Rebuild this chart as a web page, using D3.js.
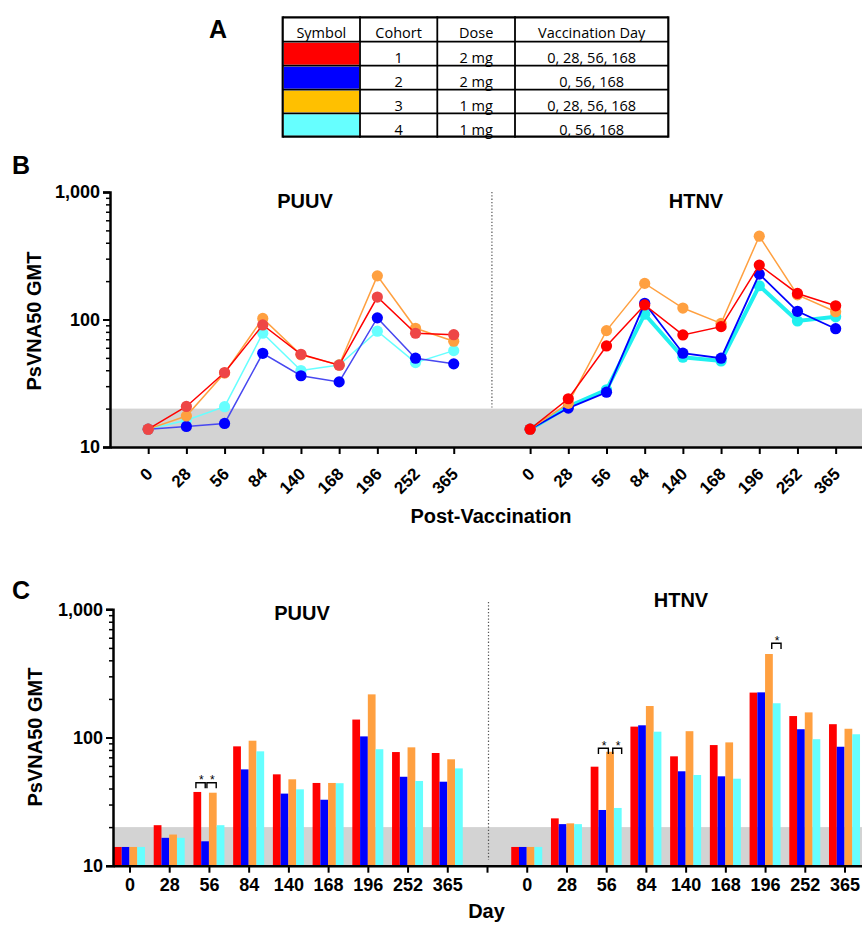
<!DOCTYPE html>
<html><head><meta charset="utf-8">
<script src="https://cdn.jsdelivr.net/npm/d3@7/dist/d3.min.js"></script>
<style>
body{margin:0;background:#fff}
svg{display:block}
text{font-family:"Liberation Sans",Arial,sans-serif}
</style>
</head><body>
<svg id="chart" width="862" height="930"></svg>
<script>
// ---------- DATA ----------
const days = ["0","28","56","84","140","168","196","252","365"];
const viruses = ["PUUV","HTNV"];
const cohorts = ["1","2","3","4"];
const doses = ["2 mg","2 mg","1 mg","1 mg"];
const vaccinationDays = ["0, 28, 56, 168","0, 56, 168","0, 28, 56, 168","0, 56, 168"];
const tableHeaders = ["Symbol","Cohort","Dose","Vaccination Day"];
const yMajorTicks = [10,100,1000];
const yMinorTicks = [20,30,40,50,60,70,80,90,200,300,400,500,600,700,800,900];
const lodValue = 20;

// Panel B (line chart) GMT values, cohorts 1..4
const lineB_PUUV_c1 = [13.8,20.8,38.4,90.6,53.4,43.8,150,78,76];
const lineB_PUUV_c2 = [13.8,14.5,15.3,54.3,36.2,32.4,103,49.7,44.9];
const lineB_PUUV_c3 = [13.8,17.5,38,102,52.8,44,220,85.3,67.5];
const lineB_PUUV_c4 = [13.8,16.2,20.7,78,39.8,44,81,45.9,57];
const lineB_HTNV_c1 = [13.8,23.9,62,130,75.7,87.9,267,160,128];
const lineB_HTNV_c2 = [13.8,20.2,26.9,134,54.4,49.7,227,116,84.7];
const lineB_HTNV_c3 = [13.8,22,81.8,192,123,93.3,450,156,115];
const lineB_HTNV_c4 = [13.8,20.8,28.1,110,50.6,47.3,184,97.3,105];

// Panel C (bar chart) GMT values, cohorts 1..4
const barC_PUUV_c1 = [14,20.7,37.6,85.3,51.6,44.2,138,77,75.7];
const barC_PUUV_c2 = [14,16.5,15.5,56.4,36.5,32.7,102,49.4,45.2];
const barC_PUUV_c3 = [14,17.5,37.1,94.4,47.2,44.2,217,83.8,67.6];
const barC_PUUV_c4 = [14,16.5,20.7,78,39.4,44,81,45.8,57.4];
const barC_HTNV_c1 = [14,23.4,59.2,121.6,71.3,87.3,224,147,127];
const barC_HTNV_c2 = [14,21.1,27.2,124.5,54.5,49.8,225,116,84.7];
const barC_HTNV_c3 = [14,21.4,77.4,176,112,91.6,448,157,117];
const barC_HTNV_c4 = [14,21.1,28.2,111,51,47.7,185,97,106];

// significance annotations (virus, day, bracket y value)
const sigVirus = ["PUUV","PUUV","HTNV","HTNV","HTNV"];
const sigDay = ["56","56","56","56","196"];
const sigTop = [44.4,44.4,82.4,82.4,543];

// ---------- STYLE ----------
const tableColors = ["#FF0000","#0000FF","#FFC000","#66FFFF"];
const barColors = ["#FF0000","#0000FF","#FFA040","#66FFFF"];
const lineColorsB = {
  PUUV:{line:["#FF0000","#4848F0","#FFA040","#66FFFF"], dot:["#EE4646","#0000FF","#FFA040","#66FFFF"], w:[1.5,1.5,1.5,1.5]},
  HTNV:{line:["#FF0000","#0000FF","#FFA040","#20F0F0"], dot:["#FF0000","#0000FF","#FFA040","#20F0F0"], w:[1.5,1.8,1.5,4]}
};
const sigOffsets = [[-1.68,-0.48],[-0.26,0.94],[-1.0,0.28],[0.85,2.0],[0.86,2.06]];
const bandColor = "#D3D3D3";

const lineB = {PUUV:[lineB_PUUV_c1,lineB_PUUV_c2,lineB_PUUV_c3,lineB_PUUV_c4],
               HTNV:[lineB_HTNV_c1,lineB_HTNV_c2,lineB_HTNV_c3,lineB_HTNV_c4]};
const barC = {PUUV:[barC_PUUV_c1,barC_PUUV_c2,barC_PUUV_c3,barC_PUUV_c4],
              HTNV:[barC_HTNV_c1,barC_HTNV_c2,barC_HTNV_c3,barC_HTNV_c4]};

const svg = d3.select("#chart");
const slot = (v,i) => (v==="PUUV"? i : i+10);
const labelOf = idx => idx<9 ? days[idx] : (idx>9 ? days[idx-10] : "");

// ---------- PANEL A : TABLE ----------
const colX = [282.7,360,437.3,515,668.3];
const rowY = [17.3,41.7,65.7,89.7,113.3,136.7];
const gA = svg.append("g");
gA.append("text").attr("x",209).attr("y",38).attr("font-size",25).attr("font-weight","bold").text("A");
cohorts.forEach((c,i)=>{
  gA.append("rect").attr("x",colX[0]+1).attr("y",rowY[i+1]+1)
    .attr("width",colX[1]-colX[0]-2).attr("height",rowY[i+2]-rowY[i+1]-2)
    .attr("fill",tableColors[i]);
});
rowY.forEach((y,i)=>{
  gA.append("line").attr("x1",colX[0]).attr("x2",colX[4]).attr("y1",y).attr("y2",y)
    .attr("stroke","#000").attr("stroke-width", (i===0||i===rowY.length-1)?2.2:1.8);
});
colX.forEach((x,i)=>{
  gA.append("line").attr("x1",x).attr("x2",x).attr("y1",rowY[0]-1).attr("y2",rowY[5]+1)
    .attr("stroke","#000").attr("stroke-width",(i===0||i===colX.length-1)?2.2:1.8);
});
const tfont = "'Open Sans','Noto Sans',sans-serif";
tableHeaders.forEach((h,j)=>{
  gA.append("text").attr("x",(colX[j]+colX[j+1])/2).attr("y",rowY[0]+21)
    .attr("text-anchor","middle").attr("font-size",14.5).attr("fill","#000").style("font-family",tfont).text(h);
});
cohorts.forEach((c,i)=>{
  const y = rowY[i+1]+21.3;
  [[1,c],[2,doses[i]],[3,vaccinationDays[i]]].forEach(([j,t])=>{
    gA.append("text").attr("x",(colX[j]+colX[j+1])/2).attr("y",y)
      .attr("text-anchor","middle").attr("font-size",14.5).attr("fill","#000").style("font-family",tfont).text(t);
  });
});

// ---------- helpers ----------
function styleAxis(g, domainW){
  g.select(".domain").attr("stroke","#000").attr("stroke-width",domainW);
  g.selectAll(".tick line").attr("stroke","#000").attr("stroke-width",2);
  g.selectAll(".tick text").attr("fill","#000").attr("font-weight","bold").attr("font-size",18)
    .style("font-family","'Liberation Sans',Arial,sans-serif");
}
function yAxes(g, y, x0){
  const ax = g.append("g").attr("transform",`translate(${x0},0)`)
    .call(d3.axisLeft(y).tickValues(yMajorTicks).tickFormat(d3.format(",")).tickSize(7).tickPadding(3));
  styleAxis(ax,2.5);
  const mn = g.append("g").attr("transform",`translate(${x0},0)`)
    .call(d3.axisLeft(y).tickValues(yMinorTicks).tickFormat("").tickSize(4).tickSizeOuter(0));
  mn.select(".domain").remove();
  mn.selectAll(".tick line").attr("stroke","#000").attr("stroke-width",1.5);
}

// ---------- PANEL B : LINES ----------
const xB = d3.scaleLinear().domain([-1,18.69]).range([110,862]);
const yB = d3.scaleLog().domain([10,1000]).range([447,192]);
const gB = svg.append("g");
gB.append("text").attr("x",12).attr("y",174).attr("font-size",25).attr("font-weight","bold").text("B");
gB.append("rect").attr("x",xB(-1)).attr("y",yB(lodValue)).attr("width",xB(18.69)-xB(-1))
  .attr("height",yB(10)-yB(lodValue)).attr("fill",bandColor);
gB.append("line").attr("x1",xB(9)).attr("x2",xB(9)).attr("y1",yB(1000)).attr("y2",yB(lodValue)-1)
  .attr("stroke","#555").attr("stroke-width",1.2).attr("stroke-dasharray","1.3,2");
gB.append("text").attr("x",305).attr("y",208).attr("text-anchor","middle").attr("font-size",20).attr("font-weight","bold").text("PUUV");
gB.append("text").attr("x",696).attr("y",208).attr("text-anchor","middle").attr("font-size",20).attr("font-weight","bold").text("HTNV");

const lineGen = v => d3.line().x((d,i)=>xB(slot(v,i))).y(d=>yB(d));
viruses.forEach(v=>{
  [3,1,2,0].forEach(k=>{
    const vals = lineB[v][k];
    gB.append("path").attr("d",lineGen(v)(vals)).attr("fill","none")
      .attr("stroke",lineColorsB[v].line[k]).attr("stroke-width",lineColorsB[v].w[k]);
    gB.selectAll(null).data(vals).enter().append("circle")
      .attr("cx",(d,i)=>xB(slot(v,i))).attr("cy",d=>yB(d)).attr("r",5.6)
      .attr("fill",lineColorsB[v].dot[k]);
  });
});
yAxes(gB,yB,110);
const bTicks = d3.range(19).filter(i=>i!==9);
const axB = gB.append("g").attr("transform","translate(0,447)")
  .call(d3.axisBottom(xB).tickValues(bTicks).tickFormat(labelOf).tickSize(7).tickSizeOuter(0));
styleAxis(axB,2.5);
axB.selectAll(".tick text").attr("font-size",17).attr("text-anchor","end")
  .attr("dy",null).attr("y",null)
  .attr("transform","translate(5,28) rotate(-45)");
gB.append("text").attr("x",491).attr("y",523).attr("text-anchor","middle").attr("font-size",20).attr("font-weight","bold").text("Post-Vaccination");
gB.append("text").attr("transform","translate(41,321) rotate(-90)").attr("text-anchor","middle")
  .attr("font-size",20).attr("font-weight","bold").text("PsVNA50 GMT");

// ---------- PANEL C : BARS ----------
const xC = d3.scaleLinear().domain([-0.415,18.44]).range([113,862]);
const yC = d3.scaleLog().domain([10,1000]).range([865.7,609.3]);
const bw = xC(0.195)-xC(0);
const gC = svg.append("g");
gC.append("text").attr("x",12).attr("y",599).attr("font-size",25).attr("font-weight","bold").text("C");
gC.append("rect").attr("x",xC(-0.415)).attr("y",yC(lodValue)).attr("width",xC(18.44)-xC(-0.415))
  .attr("height",yC(10)-yC(lodValue)).attr("fill",bandColor);
gC.append("line").attr("x1",xC(9)+1.5).attr("x2",xC(9)+1.5).attr("y1",602).attr("y2",860)
  .attr("stroke","#555").attr("stroke-width",1.2).attr("stroke-dasharray","1.3,2");
gC.append("text").attr("x",302).attr("y",620).attr("text-anchor","middle").attr("font-size",20).attr("font-weight","bold").text("PUUV");
gC.append("text").attr("x",681).attr("y",607).attr("text-anchor","middle").attr("font-size",20).attr("font-weight","bold").text("HTNV");

viruses.forEach(v=>{
  cohorts.forEach((c,k)=>{
    gC.selectAll(null).data(barC[v][k]).enter().append("rect")
      .attr("x",(d,i)=>xC(slot(v,i)) - 2*bw + k*bw)
      .attr("y",d=>yC(d)).attr("width",bw).attr("height",d=>yC(10)-yC(d))
      .attr("fill",barColors[k]);
  });
});
sigVirus.forEach((v,j)=>{
  const cx = xC(slot(v,days.indexOf(sigDay[j])));
  const x1 = cx + sigOffsets[j][0]*bw, x2 = cx + sigOffsets[j][1]*bw;
  const yt = yC(sigTop[j]);
  gC.append("path").attr("d",`M${x1},${yt+5.6}V${yt}H${x2}V${yt+5.6}`)
    .attr("fill","none").attr("stroke","#000").attr("stroke-width",1.4);
  gC.append("text").attr("x",(x1+x2)/2+0.8).attr("y",yt+1.5).attr("text-anchor","middle")
    .attr("font-size",12).text("*");
});
yAxes(gC,yC,113);
const axC = gC.append("g").attr("transform","translate(0,865.7)")
  .call(d3.axisBottom(xC).tickValues(d3.range(19)).tickFormat(labelOf).tickSize(7).tickSizeOuter(0).tickPadding(6));
styleAxis(axC,2.5);
axC.selectAll(".tick text").attr("font-size",18);
gC.append("text").attr("x",486.5).attr("y",918).attr("text-anchor","middle").attr("font-size",20).attr("font-weight","bold").text("Day");
gC.append("text").attr("transform","translate(41.5,737) rotate(-90)").attr("text-anchor","middle")
  .attr("font-size",20).attr("font-weight","bold").text("PsVNA50 GMT");
</script>
</body></html>
